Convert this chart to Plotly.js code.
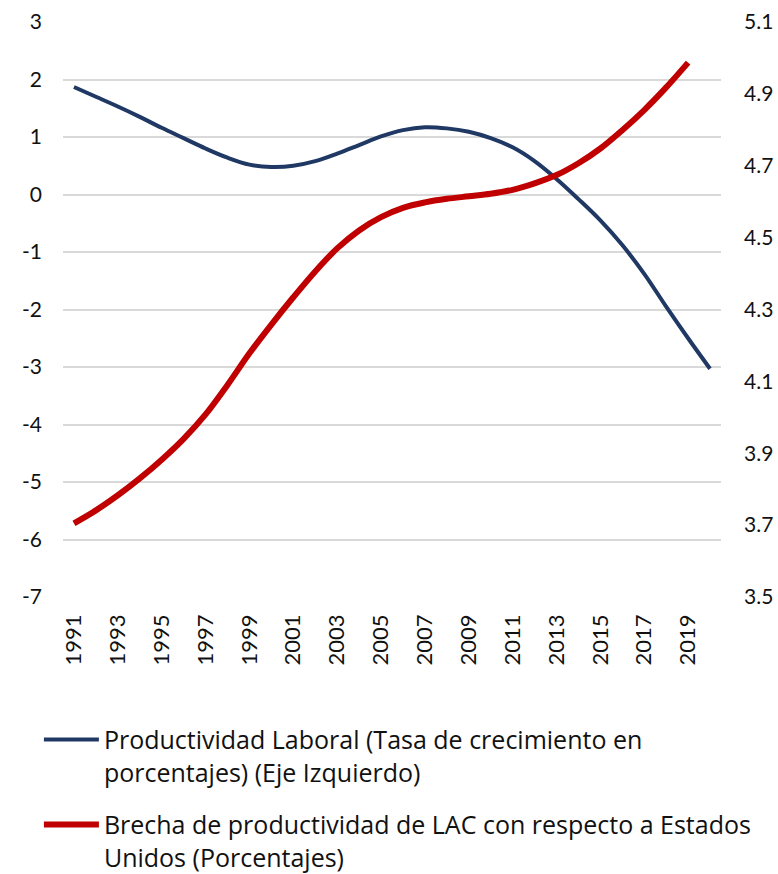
<!DOCTYPE html>
<html>
<head>
<meta charset="utf-8">
<script src="https://cdn.plot.ly/plotly-3.0.1.min.js"></script>
<style>html,body{margin:0;padding:0;background:#fff;}#chart{width:778px;height:874px;}</style>
</head>
<body>
<div id="chart"></div>
<script>
var years = [1991,1992,1993,1994,1995,1996,1997,1998,1999,2000,2001,2002,2003,2004,2005,2006,2007,2008,2009,2010,2011,2012,2013,2014,2015,2016,2017,2018,2019,2020];
var productividad = [1.87,1.70,1.53,1.35,1.16,0.98,0.80,0.64,0.52,0.48,0.50,0.58,0.71,0.86,1.01,1.12,1.17,1.15,1.09,0.98,0.82,0.58,0.27,-0.08,-0.45,-0.88,-1.38,-1.95,-2.50,-3.03];
var brechaYears = [1991,1992,1993,1994,1995,1996,1997,1998,1999,2000,2001,2002,2003,2004,2005,2006,2007,2008,2009,2010,2011,2012,2013,2014,2015,2016,2017,2018,2019];
var brecha = [3.705,3.741,3.783,3.830,3.882,3.940,4.008,4.090,4.178,4.258,4.334,4.406,4.470,4.520,4.557,4.583,4.598,4.608,4.615,4.622,4.633,4.651,4.674,4.707,4.748,4.799,4.855,4.918,4.987];
var xTicks = [1991,1993,1995,1997,1999,2001,2003,2005,2007,2009,2011,2013,2015,2017,2019];
var leftTicks = [-7,-6,-5,-4,-3,-2,-1,0,1,2,3];
var rightTicks = [3.5,3.7,3.9,4.1,4.3,4.5,4.7,4.9,5.1];
var name1 = "Productividad Laboral (Tasa de crecimiento en<br>porcentajes) (Eje Izquierdo)";
var name2 = "Brecha de productividad de LAC con respecto a Estados<br>Unidos (Porcentajes)";

var font = "Lato, 'Open Sans', sans-serif";
var traces = [
  {x: years, y: productividad, name: name1, legendgroup: 'g1', type: 'scatter', mode: 'lines',
   line: {color: '#203864', width: 4, shape: 'spline', smoothing: 1}, yaxis: 'y'},
  {x: brechaYears, y: brecha, name: name2, legendgroup: 'g2', type: 'scatter', mode: 'lines',
   line: {color: '#c00000', width: 6, shape: 'spline', smoothing: 1}, yaxis: 'y2'}
];
var layout = {
  width: 778, height: 874,
  margin: {l: 63, r: 57, t: 22, b: 277, autoexpand: false},
  paper_bgcolor: '#fff', plot_bgcolor: '#fff',
  font: {family: font, color: '#111', size: 21},
  showlegend: true,
  legend: {xref: 'container', yref: 'container', x: 0.05, y: 0.18, xanchor: 'left', yanchor: 'top',
           font: {size: 25, color: '#111', family: "'Open Sans', sans-serif"}, valign: 'top', tracegroupgap: 17,
           itemwidth: 55, traceorder: 'grouped', bgcolor: 'rgba(0,0,0,0)'},
  xaxis: {range: [1990.5, 2020.5], tickmode: 'array', tickvals: xTicks, ticktext: xTicks.map(String),
          tickangle: -90, showgrid: false, zeroline: false, showline: false, ticks: '',
          ticklabelstandoff: 12, tickfont: {size: 22}},
  yaxis: {range: [-7, 3], tickmode: 'array', tickvals: leftTicks, ticktext: leftTicks.map(String),
          showgrid: true, gridcolor: '#d9d9d9', gridwidth: 2, zeroline: false, showline: false,
          ticks: '', ticklabelstandoff: 20, tickfont: {size: 21}},
  yaxis2: {range: [3.5, 5.1], overlaying: 'y', side: 'right', tickmode: 'array', tickvals: rightTicks,
           ticktext: rightTicks.map(function(v){return v.toFixed(1);}), showgrid: false, zeroline: false,
           showline: false, ticks: '', ticklabelstandoff: 22, tickfont: {size: 21}}
};
Plotly.newPlot('chart', traces, layout, {staticPlot: true, displayModeBar: false});
</script>
</body>
</html>
